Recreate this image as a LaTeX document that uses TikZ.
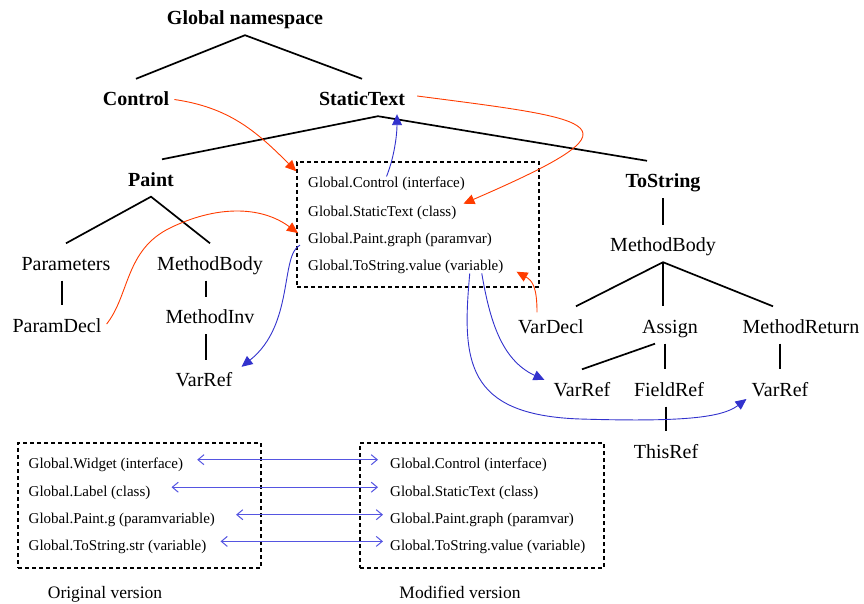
\documentclass[tikz,border=0pt]{standalone}
\usepackage{fontspec}
\setmainfont{Liberation Serif}
\usetikzlibrary{arrows.meta,calc}

\definecolor{linkred}{RGB}{255,60,0}
\definecolor{linkblue}{RGB}{50,50,205}
\definecolor{mapblue}{RGB}{85,85,225}

\begin{document}
\begin{tikzpicture}[x=1pt,y=-1pt,
  kw/.style={font=\fontsize{20}{24}\selectfont\bfseries, inner sep=0pt, text height=26.5pt, text depth=10.5pt},
  ast/.style={font=\fontsize{20}{24}\selectfont, inner sep=0pt, text height=26.5pt, text depth=10.5pt},
  entry/.style={font=\fontsize{15}{18}\selectfont, inner sep=0pt, text height=11pt, text depth=4pt, anchor=west},
  caption/.style={font=\fontsize{17.5}{21}\selectfont, inner sep=0pt, text height=12pt, text depth=4pt},
  dashbox/.style={draw, dash pattern=on 4pt off 3pt, line width=1.4pt, inner sep=0pt},
  branch/.style={line width=1.7pt},
  redlink/.style={linkred, line width=0.9pt, -{Triangle[length=11pt,width=10pt]}},
  bluelink/.style={linkblue, line width=0.9pt, -{Triangle[length=11pt,width=10pt]}},
  maplink/.style={mapblue, line width=1pt, <->, >={Straight Barb[length=6pt,width=10pt]}}]

\useasboundingbox (0,0) rectangle (864,604);

% Declarations
\node[kw] (gn) at (245,16.5) {Global namespace};
\node[kw] (ctrl) at (136,97.5) {Control};
\node[kw] (stxt) at (362,97.5) {StaticText};
\node[kw] (paint) at (151,178) {Paint};
\node[kw] (tostr) at (663,179.5) {ToString};

% Paint body
\node[ast] (params) at (66,262) {Parameters};
\node[ast] (mbodyL) at (210,262) {MethodBody};
\node[ast] (pdecl) at (57,324) {ParamDecl};
\node[ast] (minv) at (210,315.5) {MethodInv};
\node[ast] (vrefL) at (204,378.5) {VarRef};

% ToString body
\node[ast] (mbodyR) at (663,243.5) {MethodBody};
\node[ast] (vdecl) at (551,325) {VarDecl};
\node[ast] (assign) at (670,325) {Assign};
\node[ast] (mret) at (801,325) {MethodReturn};
\node[ast] (vrefA) at (582,388) {VarRef};
\node[ast] (fref) at (669,388) {FieldRef};
\node[ast] (vrefB) at (780,388) {VarRef};
\node[ast] (thisref) at (666,450) {ThisRef};

% Tree branches
\coordinate (stxtfork) at ($(stxt.south)+(16,0)$);
\coordinate (paramline) at ($(params.south)+(-4,0)$);
\coordinate (mbodyline) at ($(mbodyL.south)+(-4,0)$);
\coordinate (minvline) at ($(minv.south)+(-4,0)$);
\coordinate (assignline) at ($(assign.south)+(-5,0)$);
\draw[branch] (ctrl.north) -- (gn.south) -- (stxt.north);
\draw[branch] ($(paint.north)+(11,0)$) -- (stxtfork) -- ($(tostr.north)+(-16,0)$);
\draw[branch] (params.north) -- (paint.south) -- (mbodyL.north);
\draw[branch] (paramline) -- (paramline |- pdecl.north);
\draw[branch] (mbodyline) -- (mbodyline |- minv.north);
\draw[branch] (minvline) -- (minvline |- vrefL.north);
\draw[branch] (tostr.south) -- (tostr.south |- mbodyR.north);
\draw[branch] ($(vdecl.north)+(25,0)$) -- (mbodyR.south) -- ($(mret.north)+(-28,0)$);
\draw[branch] (mbodyR.south) -- (mbodyR.south |- assign.north);
\draw[branch] ($(assign.south)+(-15,0)$) -- (vrefA.north);
\draw[branch] (assignline) -- (assignline |- fref.north);
\draw[branch] (vrefB.north |- mret.south) -- (vrefB.north);
\draw[branch] (thisref.north |- fref.south) -- (thisref.north);

% Name table of the modified version
\node[dashbox, minimum width=242pt, minimum height=125pt] (names) at (418,224.5) {};
\node[entry] (c1) at (308,184.2) {Global.Control (interface)};
\node[entry] (c2) at (308,212.7) {Global.StaticText (class)};
\node[entry] (c3) at (308,240.1) {Global.Paint.graph (paramvar)};
\node[entry] (c4) at (308,266.7) {Global.ToString.value (variable)};

% Declarations into the table
\draw[redlink] ($(ctrl.east)+(5,2)$) .. controls +(55,8) and +(-40,-40) .. ($(names.north west)+(0,10)$);
\draw[redlink] ($(stxt.east)+(12,-1.5)$) .. controls +(185,24) and +(185,-80) .. ($(c2.east)+(7,-9)$);
\draw[redlink] ($(pdecl.east)+(5,0)$) .. controls +(23,-29) and +(-45,22) .. (170,228)
  .. controls +(45,-22) and +(-38,-28) .. ($(c3.west)+(-10,-7)$);
\draw[redlink] ($(vdecl.north)+(-14,6)$) .. controls +(0,-25) and +(16,9) .. ($(c4.east)+(13,5)$);

% Table into the references
\draw[bluelink] (c1.north) .. controls +(8,-20) and +(0,20) .. ($(stxt.south)+(35,-2)$);
\draw[bluelink] ($(c3.west)+(-8,5)$) .. controls +(-20,10) and +(53,-42) .. ($(vrefL.north east)+(9,7)$);
\draw[bluelink] ($(c4.south)+(76,-1)$) .. controls +(8,47) and +(-43,-20) .. ($(vrefA.west)+(-9,-8)$);
\draw[bluelink] ($(c4.south)+(64,-1)$) .. controls +(-8,87) and +(-115,-4) .. (580,419)
  .. controls +(100,3) and +(-25,19) .. ($(vrefB.west)+(-5,11)$);

% Original and modified versions
\node[dashbox, minimum width=243pt, minimum height=125pt] (orig) at (139.5,505.5) {};
\node[dashbox, minimum width=244pt, minimum height=125pt] (modif) at (482,505.5) {};
\node[entry] (o1) at (28.5,465.2) {Global.Widget (interface)};
\node[entry] (o2) at (28.5,492.7) {Global.Label (class)};
\node[entry] (o3) at (28.5,520.2) {Global.Paint.g (paramvariable)};
\node[entry] (o4) at (28.5,546.9) {Global.ToString.str (variable)};
\node[entry] (m1) at (390,465.2) {Global.Control (interface)};
\node[entry] (m2) at (390,492.7) {Global.StaticText (class)};
\node[entry] (m3) at (390,520.2) {Global.Paint.graph (paramvar)};
\node[entry] (m4) at (390,546.9) {Global.ToString.value (variable)};
\node[caption] (origlabel) at (105,594) {Original version};
\node[caption] (modiflabel) at (460,594) {Modified version};

\draw[maplink, shorten <=14pt, shorten >=12pt] ($(o1.east)+(0,-5.5)$) -- ($(m1.west)+(0,-5.5)$);
\draw[maplink, shorten <=21pt, shorten >=12pt] ($(o2.east)+(0,-5.5)$) -- ($(m2.west)+(0,-5.5)$);
\draw[maplink, shorten <=21pt, shorten >=7pt] ($(o3.east)+(0,-5.5)$) -- ($(m3.west)+(0,-5.5)$);
\draw[maplink, shorten <=14pt, shorten >=7pt] ($(o4.east)+(0,-5.5)$) -- ($(m4.west)+(0,-5.5)$);

\end{tikzpicture}
\end{document}
